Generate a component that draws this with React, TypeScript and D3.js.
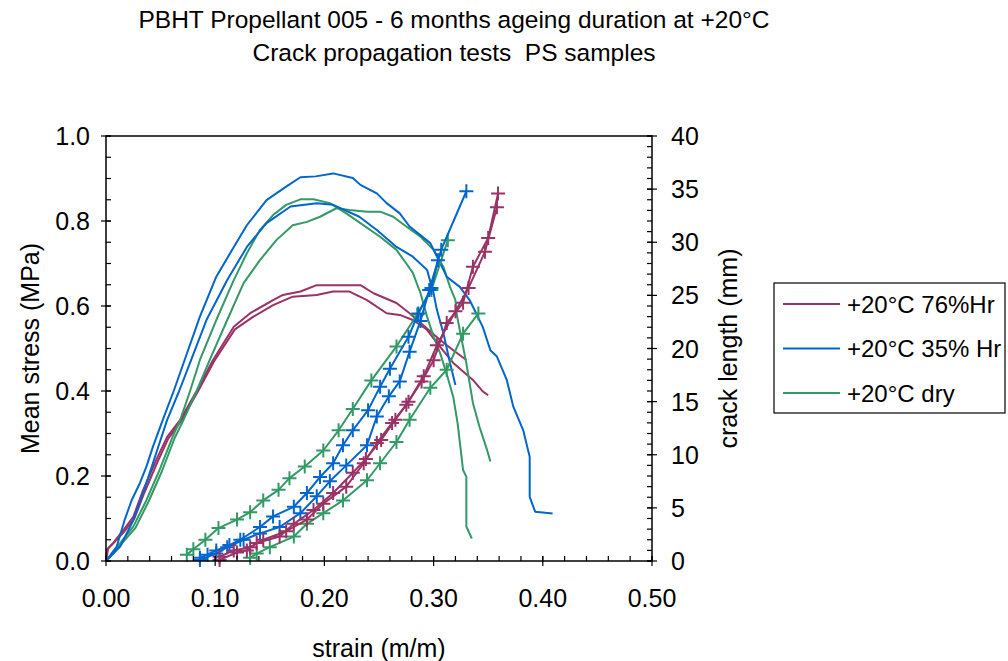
import React from "react";
import * as d3 from "d3";

type P = [number, number];

const titleLines = [
  "PBHT Propellant 005 - 6 months ageing duration at +20°C",
  "Crack propagation tests  PS samples",
];
const xTitle = "strain (m/m)";
const yLeftTitle = "Mean stress (MPa)";
const yRightTitle = "crack length (mm)";
const legendLabels = ["+20°C 76%Hr", "+20°C 35% Hr", "+20°C dry"];
const seriesColors = ["#993366", "#0066CC", "#339966"];

// stress curves: [strain, stress MPa]
const maroonStressA: P[] = [[0,0],[0.0006,0.026],[0.0065,0.042],[0.016,0.073],[0.025,0.104],[0.034,0.167],[0.046,0.238],[0.056,0.292],[0.068,0.332],[0.083,0.40],[0.098,0.473],[0.117,0.551],[0.132,0.583],[0.153,0.614],[0.162,0.626],[0.178,0.634],[0.193,0.649],[0.233,0.649],[0.245,0.630],[0.266,0.607],[0.278,0.583],[0.290,0.556],[0.306,0.520],[0.318,0.496],[0.330,0.473]];
const maroonStressB: P[] = [[0,0],[0.002,0.03],[0.008,0.045],[0.017,0.07],[0.026,0.10],[0.035,0.16],[0.047,0.232],[0.057,0.288],[0.069,0.33],[0.084,0.398],[0.099,0.47],[0.118,0.545],[0.135,0.575],[0.153,0.602],[0.171,0.622],[0.193,0.626],[0.208,0.634],[0.223,0.634],[0.239,0.614],[0.257,0.583],[0.269,0.579],[0.281,0.567],[0.294,0.544],[0.303,0.513],[0.318,0.466],[0.336,0.426],[0.345,0.399],[0.350,0.39]];
const blueStressA: P[] = [[0,0],[0.0098,0.034],[0.017,0.096],[0.0235,0.143],[0.031,0.183],[0.037,0.222],[0.043,0.269],[0.052,0.332],[0.062,0.40],[0.072,0.473],[0.086,0.575],[0.101,0.669],[0.115,0.73],[0.129,0.79],[0.147,0.849],[0.165,0.881],[0.178,0.903],[0.192,0.905],[0.208,0.912],[0.226,0.901],[0.233,0.885],[0.248,0.865],[0.257,0.842],[0.269,0.818],[0.278,0.787],[0.297,0.748],[0.306,0.701],[0.312,0.669],[0.324,0.645],[0.333,0.614],[0.345,0.551],[0.352,0.496],[0.358,0.481],[0.367,0.426],[0.373,0.363],[0.382,0.308],[0.388,0.245],[0.388,0.151],[0.393,0.116],[0.409,0.112]];
const blueStressB: P[] = [[0,0],[0.013,0.034],[0.025,0.096],[0.034,0.16],[0.046,0.254],[0.056,0.332],[0.067,0.40],[0.078,0.473],[0.092,0.567],[0.111,0.661],[0.129,0.739],[0.147,0.795],[0.169,0.834],[0.193,0.842],[0.208,0.838],[0.232,0.81],[0.248,0.779],[0.266,0.739],[0.281,0.716],[0.294,0.685],[0.300,0.630],[0.303,0.591],[0.309,0.536],[0.315,0.466],[0.320,0.414]];
const greenStressA: P[] = [[0,0],[0.013,0.042],[0.025,0.081],[0.037,0.143],[0.049,0.214],[0.061,0.292],[0.068,0.332],[0.077,0.40],[0.086,0.473],[0.101,0.567],[0.117,0.661],[0.129,0.724],[0.141,0.779],[0.153,0.814],[0.165,0.838],[0.178,0.851],[0.190,0.851],[0.205,0.842],[0.220,0.818],[0.233,0.795],[0.251,0.763],[0.266,0.732],[0.275,0.70],[0.281,0.678],[0.288,0.630],[0.294,0.575],[0.300,0.528],[0.306,0.489],[0.312,0.44],[0.318,0.386],[0.322,0.324],[0.327,0.214],[0.330,0.198],[0.330,0.081],[0.335,0.053]];
const greenStressB: P[] = [[0,0],[0.014,0.04],[0.027,0.078],[0.039,0.14],[0.051,0.21],[0.063,0.29],[0.071,0.332],[0.083,0.40],[0.095,0.473],[0.111,0.567],[0.126,0.654],[0.141,0.708],[0.156,0.755],[0.171,0.79],[0.184,0.798],[0.196,0.81],[0.211,0.830],[0.223,0.826],[0.239,0.822],[0.251,0.822],[0.263,0.81],[0.275,0.787],[0.288,0.763],[0.300,0.732],[0.309,0.692],[0.315,0.645],[0.320,0.614],[0.321,0.583],[0.324,0.543],[0.330,0.465],[0.336,0.372],[0.342,0.316],[0.349,0.261],[0.352,0.234]];

// crack length curves: [strain, crack length mm]
const maroonCrackA: P[] = [[0.104,0.4],[0.117,1.0],[0.132,1.3],[0.144,2.0],[0.165,2.8],[0.184,3.9],[0.199,5.4],[0.220,7.0],[0.236,9.2],[0.248,11.1],[0.262,13.0],[0.275,14.7],[0.289,16.9],[0.300,18.9],[0.312,22.4],[0.327,24.3],[0.336,27.7],[0.350,30.4],[0.359,34.6]];
const maroonCrackB: P[] = [[0.104,0.1],[0.120,0.8],[0.129,1.0],[0.138,1.7],[0.159,2.3],[0.172,3.5],[0.190,4.8],[0.208,6.4],[0.226,8.3],[0.238,9.6],[0.252,11.4],[0.265,13.3],[0.277,15.0],[0.291,17.4],[0.303,20.3],[0.320,23.5],[0.332,25.7],[0.347,29.1],[0.358,33.3]];
const blueCrackA: P[] = [[0.086,0.1],[0.101,0.7],[0.111,1.3],[0.126,2.0],[0.141,2.6],[0.159,3.2],[0.178,4.5],[0.193,6.1],[0.205,7.5],[0.220,9.0],[0.239,10.9],[0.248,13.6],[0.259,15.5],[0.269,16.9],[0.278,19.7],[0.288,22.6],[0.296,25.5],[0.307,29.3],[0.330,34.8]];
const blueCrackB: P[] = [[0.086,0.3],[0.093,0.6],[0.101,1.0],[0.113,1.5],[0.123,2.0],[0.141,3.2],[0.153,4.2],[0.172,5.1],[0.184,6.4],[0.196,7.9],[0.208,9.2],[0.217,10.9],[0.226,12.3],[0.240,14.2],[0.251,16.4],[0.260,18.1],[0.277,21.1],[0.286,23.3],[0.298,25.7],[0.304,28.3]];
const greenCrackA: P[] = [[0.074,0.6],[0.080,1.1],[0.091,2.0],[0.103,3.1],[0.120,3.9],[0.132,4.6],[0.144,5.7],[0.158,6.7],[0.168,7.8],[0.182,8.9],[0.199,10.4],[0.213,12.3],[0.226,14.3],[0.243,17.0],[0.266,20.2],[0.285,23.2],[0.298,25.5],[0.313,30.2]];
const greenCrackB: P[] = [[0.132,0.3],[0.138,0.7],[0.150,1.3],[0.172,2.3],[0.184,3.5],[0.199,4.5],[0.217,5.7],[0.239,7.6],[0.251,9.2],[0.266,11.2],[0.278,13.3],[0.297,16.3],[0.312,18.0],[0.327,21.4],[0.341,23.3]];

const xDomain: P = [0, 0.5];
const yLeftDomain: P = [0, 1];
const yRightDomain: P = [0, 40];

const FONT = "'Liberation Sans', Arial, sans-serif";

export default function App() {
  const W = 1008, H = 661;
  const left = 106, right = 652, top = 136, bottom = 561;
  const x = d3.scaleLinear().domain(xDomain).range([left, right]);
  const yL = d3.scaleLinear().domain(yLeftDomain).range([bottom, top]);
  const yR = d3.scaleLinear().domain(yRightDomain).range([bottom, top]);

  const stressLine = d3.line<P>().x((d) => x(d[0])).y((d) => yL(d[1]));
  const crackLine = d3.line<P>().x((d) => x(d[0])).y((d) => yR(d[1]));

  const stress = [
    { data: maroonStressB, c: seriesColors[0] },
    { data: maroonStressA, c: seriesColors[0] },
    { data: greenStressB, c: seriesColors[2] },
    { data: greenStressA, c: seriesColors[2] },
    { data: blueStressB, c: seriesColors[1] },
    { data: blueStressA, c: seriesColors[1] },
  ];
  const crack = [
    { data: greenCrackB, c: seriesColors[2] },
    { data: greenCrackA, c: seriesColors[2] },
    { data: blueCrackB, c: seriesColors[1] },
    { data: blueCrackA, c: seriesColors[1] },
    { data: maroonCrackB, c: seriesColors[0] },
    { data: maroonCrackA, c: seriesColors[0] },
  ];

  const xMajor = x.ticks(5);
  const xMinor = x.ticks(25);
  const yLMajor = yL.ticks(5);
  const yLMinor = yL.ticks(20);
  const yRMajor = yR.ticks(8);
  const yRMinor = yR.ticks(40);
  const fx = d3.format(".2f");
  const fyL = d3.format(".1f");
  const fyR = d3.format("d");
  const ms = 7;
  const tickFs = 25;

  return (
    <svg width={W} height={H} style={{ position: "absolute", left: 0, top: 0, background: "#fff" }} fontFamily={FONT}>
      <rect x={0} y={0} width={W} height={H} fill="#fff" />
      {titleLines.map((t, i) => (
        <text key={i} x={454} y={28 + i * 33} textAnchor="middle" fontSize={24.5} fill="#000" style={{ whiteSpace: "pre" }}>{t}</text>
      ))}

      {/* data */}
      <g fill="none" strokeWidth={2} strokeLinejoin="round">
        {stress.map((s, i) => (
          <path key={"s" + i} d={stressLine(s.data) || ""} stroke={s.c} />
        ))}
        {crack.map((s, i) => (
          <g key={"c" + i} stroke={s.c}>
            <path d={crackLine(s.data) || ""} />
            {s.data.map((d, j) => {
              const px = x(d[0]), py = yR(d[1]);
              return <path key={j} d={`M${px - ms},${py}H${px + ms}M${px},${py - ms}V${py + ms}`} />;
            })}
          </g>
        ))}
      </g>

      {/* frame */}
      <rect x={left} y={top} width={right - left} height={bottom - top} fill="none" stroke="#000" strokeWidth={1.5} />

      {/* ticks */}
      <g stroke="#000" strokeWidth={1.2}>
        {xMinor.map((t, i) => (
          <line key={"xm" + i} x1={x(t)} x2={x(t)} y1={bottom} y2={bottom - 5} />
        ))}
        {xMajor.map((t, i) => (
          <line key={"xM" + i} x1={x(t)} x2={x(t)} y1={bottom + 5} y2={bottom - 5} />
        ))}
        {yLMinor.map((t, i) => (
          <line key={"ylm" + i} x1={left} x2={left + 5} y1={yL(t)} y2={yL(t)} />
        ))}
        {yLMajor.map((t, i) => (
          <line key={"ylM" + i} x1={left - 5} x2={left + 5} y1={yL(t)} y2={yL(t)} />
        ))}
        {yRMinor.map((t, i) => (
          <line key={"yrm" + i} x1={right} x2={right - 5} y1={yR(t)} y2={yR(t)} />
        ))}
        {yRMajor.map((t, i) => (
          <line key={"yrM" + i} x1={right - 5} x2={right + 5} y1={yR(t)} y2={yR(t)} />
        ))}
      </g>

      <g fontSize={tickFs} fill="#000">
        {xMajor.map((t, i) => (
          <text key={"xl" + i} x={x(t)} y={607} textAnchor="middle">{fx(t)}</text>
        ))}
        {yLMajor.map((t, i) => (
          <text key={"yl" + i} x={90} y={yL(t) + 9} textAnchor="end">{fyL(t)}</text>
        ))}
        {yRMajor.map((t, i) => (
          <text key={"yr" + i} x={671} y={yR(t) + 9} textAnchor="start">{fyR(t)}</text>
        ))}
        <text x={379} y={657} textAnchor="middle">{xTitle}</text>
        <text transform={`translate(39,${(top + bottom) / 2}) rotate(-90)`} textAnchor="middle">{yLeftTitle}</text>
        <text transform={`translate(737,${(top + bottom) / 2}) rotate(-90)`} textAnchor="middle">{yRightTitle}</text>
      </g>

      {/* legend */}
      <g>
        <rect x={774} y={283} width={231} height={130} fill="#fff" stroke="#000" strokeWidth={1.2} />
        {legendLabels.map((l, i) => (
          <g key={l}>
            <line x1={783} x2={840} y1={304 + i * 44.5} y2={304 + i * 44.5} stroke={seriesColors[i]} strokeWidth={2} />
            <text x={847} y={304 + i * 44.5 + 8.5} fontSize={24} fill="#000">{l}</text>
          </g>
        ))}
      </g>
    </svg>
  );
}
